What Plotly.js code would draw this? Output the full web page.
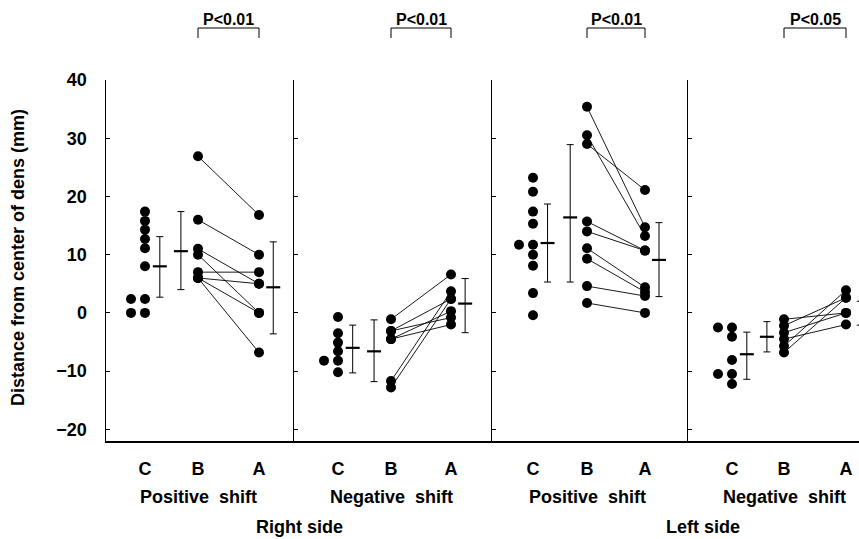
<!DOCTYPE html>
<html>
<head>
<meta charset="utf-8">
<script src="https://cdn.plot.ly/plotly-3.0.1.min.js"></script>
<style>html,body{margin:0;padding:0;background:#fff;}#chart{width:859px;height:539px;}</style>
</head>
<body>
<div id="chart"></div>
<script>
// ---- data (mm) ----
const categories = ['C', 'B', 'A'];
const shiftNames = ['Positive\u00a0 shift', 'Negative\u00a0 shift', 'Positive\u00a0 shift', 'Negative\u00a0 shift'];
const sideNames = ['Right side', 'Left side'];
const pLabels = ['P<0.01', 'P<0.01', 'P<0.01', 'P<0.05'];
const yTicks = [-20, -10, 0, 10, 20, 30, 40];

// Right side, positive shift
const controlRpos = [17.4, 15.8, 14.3, 12.7, 11.1, 8.0, 2.4, 2.4, 0, 0];
const beforeRpos  = [26.9, 16.0, 11.0, 10.0, 7.0, 6.0, 6.0, 6.0];
const afterRpos   = [16.8, 10.0, 5.0, 0.0, 7.0, 5.0, 0.0, -6.8];
const meanRpos = [8.0, 10.6, 4.4];
const upRpos   = [5.1, 6.8, 7.8];
const downRpos = [5.3, 6.6, 8.0];

// Right side, negative shift
const controlRneg = [-0.7, -3.5, -5.1, -6.6, -8.2, -8.2, -10.2];
const beforeRneg  = [-1.1, -3.1, -3.1, -4.5, -4.5, -11.7, -12.8];
const afterRneg   = [6.6, 2.4, -0.8, 0.3, -2.0, 3.7, 2.4];
const meanRneg = [-6.0, -6.6, 1.6];
const upRneg   = [3.9, 5.4, 4.3];
const downRneg = [4.3, 5.2, 5.0];

// Left side, positive shift
const controlLpos = [23.2, 20.8, 17.4, 15.3, 11.7, 11.7, 10.0, 8.1, 3.4, -0.4];
const beforeLpos  = [35.4, 30.5, 29.0, 15.7, 14.0, 11.1, 9.3, 4.6, 1.7];
const afterLpos   = [14.7, 13.2, 21.1, 10.7, 10.7, 4.4, 3.6, 2.9, 0.0];
const meanLpos = [12.0, 16.4, 9.1];
const upLpos   = [6.7, 12.5, 6.4];
const downLpos = [6.7, 11.1, 6.3];

// Left side, negative shift
const controlLneg = [-2.5, -2.5, -4.1, -8.1, -10.5, -10.5, -12.2];
const beforeLneg  = [-1.1, -2.2, -3.4, -4.5, -5.7, -6.8];
const afterLneg   = [0.0, 2.6, 0.0, -2.0, 3.9, 2.6];
const meanLneg = [-7.1, -4.1, 0.0];
const upLneg   = [3.8, 2.6, 2.0];
const downLneg = [4.3, 2.6, 2.1];

// ---- layout geometry (pixels) ----
const W = 859, H = 539, ML = 106, MR = 0, MT = 80, MB = 98;
const panelLeft  = [106, 294, 492, 688];
const panelRight = [294, 492, 688, 859];
const pxC = [145, 338, 533, 732];
const pxB = [198, 391, 587, 784];
const pxA = [259, 451, 645, 846];
const plotW = W - ML - MR, plotH = H - MT - MB;

const FONT = '"Liberation Sans", Arial, sans-serif';

const panels = [
  {c: controlRpos, b: beforeRpos, a: afterRpos, m: meanRpos, up: upRpos, dn: downRpos},
  {c: controlRneg, b: beforeRneg, a: afterRneg, m: meanRneg, up: upRneg, dn: downRneg},
  {c: controlLpos, b: beforeLpos, a: afterLpos, m: meanLpos, up: upLpos, dn: downLpos},
  {c: controlLneg, b: beforeLneg, a: afterLneg, m: meanLneg, up: upLneg, dn: downLneg}
];

const traces = [];
const layout = {
  width: W, height: H,
  margin: {l: ML, r: MR, t: MT, b: MB, pad: 0},
  paper_bgcolor: '#fff', plot_bgcolor: '#fff',
  showlegend: false,
  font: {family: FONT, color: '#000'},
  annotations: [], shapes: []
};

panels.forEach((p, i) => {
  const k = i === 0 ? '' : String(i + 1);
  const xa = 'x' + k, ya = 'y' + k;
  const unit = (pxA[i] - pxC[i]) / 2;
  const bPos = 1 + (pxB[i] - pxC[i]) / unit;
  const r0 = 1 - (pxC[i] - panelLeft[i]) / unit;
  const r1 = 1 + (panelRight[i] - pxC[i]) / unit;
  const jit = 14 / unit;

  layout['xaxis' + k] = {
    domain: [(panelLeft[i] - ML) / plotW, (panelRight[i] - ML) / plotW],
    range: [r0, r1], anchor: ya,
    showgrid: false, zeroline: false,
    showline: true, linecolor: '#000', linewidth: 1.5,
    ticks: 'outside', ticklen: 11, tickcolor: 'rgba(0,0,0,0)',
    tickvals: [1, bPos, 3], ticktext: categories,
    tickfont: {family: FONT, size: 18, weight: 700, color: '#000'},
    fixedrange: true
  };
  layout['yaxis' + k] = {
    domain: [0, 1], range: [-22, 40], anchor: xa,
    showgrid: false, zeroline: false,
    showline: true, linecolor: '#000', linewidth: 1.5,
    ticks: 'inside', ticklen: 4, tickwidth: 1, tickcolor: '#000',
    tickvals: yTicks, ticktext: yTicks.map(v => v < 0 ? '\u2212' + Math.abs(v) : String(v)),
    showticklabels: i === 0, ticklabelstandoff: 14,
    tickfont: {family: FONT, size: 18, weight: 700, color: '#000'},
    fixedrange: true
  };
  if (i > 0) layout['yaxis' + k].matches = 'y';

  // control dots: repeated values sit side by side
  const seen = new Set();
  const cx = p.c.map(v => { const d = seen.has(v); seen.add(v); return d ? 1 - jit : 1; });
  traces.push({type: 'scatter', mode: 'markers', xaxis: xa, yaxis: ya,
    x: cx, y: p.c, marker: {size: 10, color: '#000'}, hoverinfo: 'y', cliponaxis: false});

  // paired before / after lines
  const lx = [], ly = [];
  p.b.forEach((v, j) => { lx.push(bPos, 3, null); ly.push(v, p.a[j], null); });
  traces.push({type: 'scatter', mode: 'lines', xaxis: xa, yaxis: ya,
    x: lx, y: ly, line: {color: '#000', width: 0.9}, hoverinfo: 'skip', connectgaps: false});
  traces.push({type: 'scatter', mode: 'markers', xaxis: xa, yaxis: ya,
    x: p.b.map(() => bPos), y: p.b, marker: {size: 10, color: '#000'}, hoverinfo: 'y'});
  traces.push({type: 'scatter', mode: 'markers', xaxis: xa, yaxis: ya,
    x: p.a.map(() => 3), y: p.a, marker: {size: 10, color: '#000'}, hoverinfo: 'y', cliponaxis: false});

  // mean ± SD
  traces.push({type: 'scatter', mode: 'markers', xaxis: xa, yaxis: ya,
    x: [1 + 0.26, bPos - 0.3, 3 + 0.25], y: p.m,
    marker: {symbol: 'line-ew', size: 10, color: '#000', line: {width: 2.2, color: '#000'}},
    error_y: {type: 'data', symmetric: false, array: p.up, arrayminus: p.dn,
      width: 3.5, thickness: 1, color: '#000'},
    hoverinfo: 'y', cliponaxis: false});

  // group label
  layout.annotations.push({xref: xa, yref: 'paper', x: bPos, y: (MT + plotH - 497) / plotH,
    text: shiftNames[i], showarrow: false, xanchor: 'center', yanchor: 'middle',
    font: {family: FONT, size: 18, weight: 700, color: '#000'}});

  // significance bracket
  const yTop = (MT + plotH - 28) / plotH, yBot = (MT + plotH - 38) / plotH;
  layout.shapes.push({type: 'path', xref: xa, yref: 'paper',
    path: `M ${bPos} ${yBot} L ${bPos} ${yTop} L 3 ${yTop} L 3 ${yBot}`,
    line: {color: '#000', width: 1}});
  layout.annotations.push({xref: xa, yref: 'paper', x: (bPos + 3) / 2, y: (MT + plotH - 19) / plotH,
    text: pLabels[i], showarrow: false, xanchor: 'center', yanchor: 'middle',
    font: {family: FONT, size: 16, weight: 700, color: '#000'}});
});

// side labels
[299, 703].forEach((px, j) => {
  layout.annotations.push({xref: 'paper', yref: 'paper', x: (px - ML) / plotW, y: (MT + plotH - 527) / plotH,
    text: sideNames[j], showarrow: false, xanchor: 'center', yanchor: 'middle',
    font: {family: FONT, size: 18, weight: 700, color: '#000'}});
});

// y axis title
layout.annotations.push({xref: 'paper', yref: 'paper', x: (18 - ML) / plotW, y: (MT + plotH - 258) / plotH,
  text: 'Distance from center of dens (mm)', textangle: -90, showarrow: false,
  xanchor: 'center', yanchor: 'middle',
  font: {family: FONT, size: 18, weight: 700, color: '#000'}});

Plotly.newPlot('chart', traces, layout, {staticPlot: true, displayModeBar: false});
</script>
</body>
</html>
